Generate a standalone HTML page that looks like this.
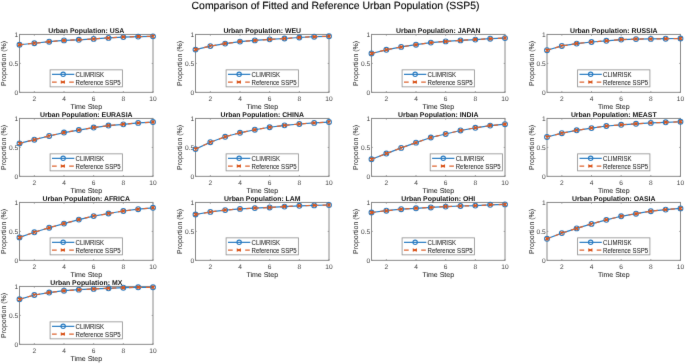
<!DOCTYPE html>
<html><head><meta charset="utf-8"><title>Comparison of Fitted and Reference Urban Population (SSP5)</title>
<style>
html,body{margin:0;padding:0;background:#fff;}
body{width:685px;height:364px;overflow:hidden;}
svg{display:block;will-change:transform;text-rendering:geometricPrecision;font-family:"Liberation Sans",sans-serif;}
text{fill:#262626;stroke:#262626;stroke-width:0.05px;}
.m{text-anchor:middle;} .e{text-anchor:end;}
.g{text-rendering:auto;}
.t{font-size:6.6px;fill:#404040;stroke:#404040;stroke-width:0px;} .l{font-size:7.0px;} .g{font-size:6.05px;}
.h{font-size:6.9px;font-weight:bold;fill:#111;stroke:none;}
.s{font-size:10.43px;text-anchor:middle;fill:#000;stroke:#000;stroke-width:0.12px;}
.ax{fill:none;stroke:#8a8a8a;stroke-width:1px;}
.tk{fill:none;stroke:#8a8a8a;stroke-width:0.8px;}
.lg{fill:#fff;stroke:#959595;stroke-width:0.85px;}
.bl{fill:none;stroke:#2a7cc2;stroke-width:1.2px;}
.mc{fill:none;stroke:#2a7cc2;stroke-width:1.1px;}
.or{fill:none;stroke:#dd6430;stroke-width:1.25px;stroke-dasharray:4.3 4.2;}
.ol{fill:none;stroke:#dd6430;stroke-width:1.25px;}
.mx{fill:none;stroke:#D95319;stroke-width:1.4px;}
.lx{stroke-width:1.5px;}
</style></head>
<body>
<svg width="685" height="364" viewBox="0 0 685 364">
<defs><filter id="bl" color-interpolation-filters="sRGB" x="0" y="0" width="685" height="364" filterUnits="userSpaceOnUse"><feConvolveMatrix order="3" kernelMatrix="0.0052 0.0619 0.0052 0.0619 0.7314 0.0619 0.0052 0.0619 0.0052" edgeMode="duplicate"/></filter></defs>
<rect width="685" height="364" fill="#fff"/>
<g filter="url(#bl)">
<text class="s" x="335.55" y="8.9">Comparison of Fitted and Reference Urban Population (SSP5)</text>
<g><rect class="ax" x="19.5" y="34.45" width="133.5" height="57.9"/><text class="t m" x="34.33" y="101.35">2</text><text class="t m" x="64" y="101.35">4</text><text class="t m" x="93.67" y="101.35">6</text><text class="t m" x="123.33" y="101.35">8</text><text class="t m" x="153" y="101.35">10</text><text class="t e" x="18.2" y="94.75">0</text><text class="t e" x="18.2" y="65.8">0.5</text><text class="t e" x="18.2" y="36.85">1</text><path class="tk" d="M34.33 92.35V91.05M34.33 34.45V35.75M64 92.35V91.05M64 34.45V35.75M93.67 92.35V91.05M93.67 34.45V35.75M123.33 92.35V91.05M123.33 34.45V35.75M153 92.35V91.05M153 34.45V35.75M19.5 92.35H20.8M153 92.35H151.7M19.5 63.4H20.8M153 63.4H151.7M19.5 34.45H20.8M153 34.45H151.7"/><text class="l m" x="86.25" y="108.85">Time Step</text><text class="l m" transform="translate(6.1,63.4) rotate(-90)">Proportion (%)</text><text class="h m" x="86.25" y="32.75">Urban Population: USA</text><polyline class="bl" points="19.5,44.77 34.33,43.26 49.17,41.69 64,40.42 78.83,39.78 93.67,38.91 108.5,37.92 123.33,37.11 138.17,36.59 153,36.36"/><circle class="mc" cx="19.5" cy="44.77" r="2.4"/><circle class="mc" cx="34.33" cy="43.26" r="2.4"/><circle class="mc" cx="49.17" cy="41.69" r="2.4"/><circle class="mc" cx="64" cy="40.42" r="2.4"/><circle class="mc" cx="78.83" cy="39.78" r="2.4"/><circle class="mc" cx="93.67" cy="38.91" r="2.4"/><circle class="mc" cx="108.5" cy="37.92" r="2.4"/><circle class="mc" cx="123.33" cy="37.11" r="2.4"/><circle class="mc" cx="138.17" cy="36.59" r="2.4"/><circle class="mc" cx="153" cy="36.36" r="2.4"/><polyline class="or" points="19.5,44.77 34.33,43.26 49.17,41.69 64,40.42 78.83,39.78 93.67,38.91 108.5,37.92 123.33,37.11 138.17,36.59 153,36.36"/><path class="mx" d="M18 43.27L21 46.27M18 46.27L21 43.27M32.83 41.76L35.83 44.76M32.83 44.76L35.83 41.76M47.67 40.19L50.67 43.19M47.67 43.19L50.67 40.19M62.5 38.92L65.5 41.92M62.5 41.92L65.5 38.92M77.33 38.28L80.33 41.28M77.33 41.28L80.33 38.28M92.17 37.41L95.17 40.41M92.17 40.41L95.17 37.41M107 36.42L110 39.42M107 39.42L110 36.42M121.83 35.61L124.83 38.61M121.83 38.61L124.83 35.61M136.67 35.09L139.67 38.09M136.67 38.09L139.67 35.09M151.5 34.86L154.5 37.86M151.5 37.86L154.5 34.86"/><rect class="lg" x="50.1" y="69.85" width="72.3" height="17"/><path class="bl" d="M52 74.35H74.3"/><circle class="mc" cx="63.15" cy="74.35" r="2.1999999999999997"/><path class="ol" d="M52 82.05H56.7M69.2 82.05H73.8"/><path fill="#D95319" d="M60.75 80.25L62.85 81.15L64.95 80.25V83.85L62.85 82.95L60.75 83.85Z"/><text class="g" transform="translate(75.6,76.75) scale(1,1.04)">CLIMRISK</text><text class="g" transform="translate(75.6,84.55) scale(1,1.04)">Reference SSP5</text></g>
<g><rect class="ax" x="195.5" y="34.45" width="133.5" height="57.9"/><text class="t m" x="210.33" y="101.35">2</text><text class="t m" x="240" y="101.35">4</text><text class="t m" x="269.67" y="101.35">6</text><text class="t m" x="299.33" y="101.35">8</text><text class="t m" x="329" y="101.35">10</text><text class="t e" x="194.2" y="94.75">0</text><text class="t e" x="194.2" y="65.8">0.5</text><text class="t e" x="194.2" y="36.85">1</text><path class="tk" d="M210.33 92.35V91.05M210.33 34.45V35.75M240 92.35V91.05M240 34.45V35.75M269.67 92.35V91.05M269.67 34.45V35.75M299.33 92.35V91.05M299.33 34.45V35.75M329 92.35V91.05M329 34.45V35.75M195.5 92.35H196.8M329 92.35H327.7M195.5 63.4H196.8M329 63.4H327.7M195.5 34.45H196.8M329 34.45H327.7"/><text class="l m" x="262.25" y="108.85">Time Step</text><text class="l m" transform="translate(182.1,63.4) rotate(-90)">Proportion (%)</text><text class="h m" x="262.25" y="32.75">Urban Population: WEU</text><polyline class="bl" points="195.5,49.58 210.33,46.1 225.17,43.61 240,41.58 254.83,40.42 269.67,39.37 284.5,38.5 299.33,37.52 314.17,36.7 329,36.3"/><circle class="mc" cx="195.5" cy="49.58" r="2.4"/><circle class="mc" cx="210.33" cy="46.1" r="2.4"/><circle class="mc" cx="225.17" cy="43.61" r="2.4"/><circle class="mc" cx="240" cy="41.58" r="2.4"/><circle class="mc" cx="254.83" cy="40.42" r="2.4"/><circle class="mc" cx="269.67" cy="39.37" r="2.4"/><circle class="mc" cx="284.5" cy="38.5" r="2.4"/><circle class="mc" cx="299.33" cy="37.52" r="2.4"/><circle class="mc" cx="314.17" cy="36.7" r="2.4"/><circle class="mc" cx="329" cy="36.3" r="2.4"/><polyline class="or" points="195.5,49.58 210.33,46.1 225.17,43.61 240,41.58 254.83,40.42 269.67,39.37 284.5,38.5 299.33,37.52 314.17,36.7 329,36.3"/><path class="mx" d="M194 48.08L197 51.08M194 51.08L197 48.08M208.83 44.6L211.83 47.6M208.83 47.6L211.83 44.6M223.67 42.11L226.67 45.11M223.67 45.11L226.67 42.11M238.5 40.08L241.5 43.08M238.5 43.08L241.5 40.08M253.33 38.92L256.33 41.92M253.33 41.92L256.33 38.92M268.17 37.87L271.17 40.87M268.17 40.87L271.17 37.87M283 37L286 40M283 40L286 37M297.83 36.02L300.83 39.02M297.83 39.02L300.83 36.02M312.67 35.2L315.67 38.2M312.67 38.2L315.67 35.2M327.5 34.8L330.5 37.8M327.5 37.8L330.5 34.8"/><rect class="lg" x="226.1" y="69.85" width="72.3" height="17"/><path class="bl" d="M228 74.35H250.3"/><circle class="mc" cx="239.15" cy="74.35" r="2.1999999999999997"/><path class="ol" d="M228 82.05H232.7M245.2 82.05H249.8"/><path fill="#D95319" d="M236.75 80.25L238.85 81.15L240.95 80.25V83.85L238.85 82.95L236.75 83.85Z"/><text class="g" transform="translate(251.6,76.75) scale(1,1.04)">CLIMRISK</text><text class="g" transform="translate(251.6,84.55) scale(1,1.04)">Reference SSP5</text></g>
<g><rect class="ax" x="371.5" y="34.45" width="133.5" height="57.9"/><text class="t m" x="386.33" y="101.35">2</text><text class="t m" x="416" y="101.35">4</text><text class="t m" x="445.67" y="101.35">6</text><text class="t m" x="475.33" y="101.35">8</text><text class="t m" x="505" y="101.35">10</text><text class="t e" x="370.2" y="94.75">0</text><text class="t e" x="370.2" y="65.8">0.5</text><text class="t e" x="370.2" y="36.85">1</text><path class="tk" d="M386.33 92.35V91.05M386.33 34.45V35.75M416 92.35V91.05M416 34.45V35.75M445.67 92.35V91.05M445.67 34.45V35.75M475.33 92.35V91.05M475.33 34.45V35.75M505 92.35V91.05M505 34.45V35.75M371.5 92.35H372.8M505 92.35H503.7M371.5 63.4H372.8M505 63.4H503.7M371.5 34.45H372.8M505 34.45H503.7"/><text class="l m" x="438.25" y="108.85">Time Step</text><text class="l m" transform="translate(358.1,63.4) rotate(-90)">Proportion (%)</text><text class="h m" x="438.25" y="32.75">Urban Population: JAPAN</text><polyline class="bl" points="371.5,53.47 386.33,49.81 401.17,46.91 416,44.71 430.83,42.62 445.67,41.4 460.5,40.42 475.33,39.6 490.17,38.68 505,38.1"/><circle class="mc" cx="371.5" cy="53.47" r="2.4"/><circle class="mc" cx="386.33" cy="49.81" r="2.4"/><circle class="mc" cx="401.17" cy="46.91" r="2.4"/><circle class="mc" cx="416" cy="44.71" r="2.4"/><circle class="mc" cx="430.83" cy="42.62" r="2.4"/><circle class="mc" cx="445.67" cy="41.4" r="2.4"/><circle class="mc" cx="460.5" cy="40.42" r="2.4"/><circle class="mc" cx="475.33" cy="39.6" r="2.4"/><circle class="mc" cx="490.17" cy="38.68" r="2.4"/><circle class="mc" cx="505" cy="38.1" r="2.4"/><polyline class="or" points="371.5,53.47 386.33,49.81 401.17,46.91 416,44.71 430.83,42.62 445.67,41.4 460.5,40.42 475.33,39.6 490.17,38.68 505,38.1"/><path class="mx" d="M370 51.97L373 54.97M370 54.97L373 51.97M384.83 48.31L387.83 51.31M384.83 51.31L387.83 48.31M399.67 45.41L402.67 48.41M399.67 48.41L402.67 45.41M414.5 43.21L417.5 46.21M414.5 46.21L417.5 43.21M429.33 41.12L432.33 44.12M429.33 44.12L432.33 41.12M444.17 39.9L447.17 42.9M444.17 42.9L447.17 39.9M459 38.92L462 41.92M459 41.92L462 38.92M473.83 38.1L476.83 41.1M473.83 41.1L476.83 38.1M488.67 37.18L491.67 40.18M488.67 40.18L491.67 37.18M503.5 36.6L506.5 39.6M503.5 39.6L506.5 36.6"/><rect class="lg" x="402.1" y="69.85" width="72.3" height="17"/><path class="bl" d="M404 74.35H426.3"/><circle class="mc" cx="415.15" cy="74.35" r="2.1999999999999997"/><path class="ol" d="M404 82.05H408.7M421.2 82.05H425.8"/><path fill="#D95319" d="M412.75 80.25L414.85 81.15L416.95 80.25V83.85L414.85 82.95L412.75 83.85Z"/><text class="g" transform="translate(427.6,76.75) scale(1,1.04)">CLIMRISK</text><text class="g" transform="translate(427.6,84.55) scale(1,1.04)">Reference SSP5</text></g>
<g><rect class="ax" x="547" y="34.45" width="133.5" height="57.9"/><text class="t m" x="561.83" y="101.35">2</text><text class="t m" x="591.5" y="101.35">4</text><text class="t m" x="621.17" y="101.35">6</text><text class="t m" x="650.83" y="101.35">8</text><text class="t m" x="680.5" y="101.35">10</text><text class="t e" x="545.7" y="94.75">0</text><text class="t e" x="545.7" y="65.8">0.5</text><text class="t e" x="545.7" y="36.85">1</text><path class="tk" d="M561.83 92.35V91.05M561.83 34.45V35.75M591.5 92.35V91.05M591.5 34.45V35.75M621.17 92.35V91.05M621.17 34.45V35.75M650.83 92.35V91.05M650.83 34.45V35.75M680.5 92.35V91.05M680.5 34.45V35.75M547 92.35H548.3M680.5 92.35H679.2M547 63.4H548.3M680.5 63.4H679.2M547 34.45H548.3M680.5 34.45H679.2"/><text class="l m" x="613.75" y="108.85">Time Step</text><text class="l m" transform="translate(533.6,63.4) rotate(-90)">Proportion (%)</text><text class="h m" x="613.75" y="32.75">Urban Population: RUSSIA</text><polyline class="bl" points="547,50.22 561.83,45.93 576.67,43.61 591.5,41.98 606.33,40.82 621.17,39.6 636,39.08 650.83,38.91 665.67,38.68 680.5,38.5"/><circle class="mc" cx="547" cy="50.22" r="2.4"/><circle class="mc" cx="561.83" cy="45.93" r="2.4"/><circle class="mc" cx="576.67" cy="43.61" r="2.4"/><circle class="mc" cx="591.5" cy="41.98" r="2.4"/><circle class="mc" cx="606.33" cy="40.82" r="2.4"/><circle class="mc" cx="621.17" cy="39.6" r="2.4"/><circle class="mc" cx="636" cy="39.08" r="2.4"/><circle class="mc" cx="650.83" cy="38.91" r="2.4"/><circle class="mc" cx="665.67" cy="38.68" r="2.4"/><circle class="mc" cx="680.5" cy="38.5" r="2.4"/><polyline class="or" points="547,50.22 561.83,45.93 576.67,43.61 591.5,41.98 606.33,40.82 621.17,39.6 636,39.08 650.83,38.91 665.67,38.68 680.5,38.5"/><path class="mx" d="M545.5 48.72L548.5 51.72M545.5 51.72L548.5 48.72M560.33 44.43L563.33 47.43M560.33 47.43L563.33 44.43M575.17 42.11L578.17 45.11M575.17 45.11L578.17 42.11M590 40.48L593 43.48M590 43.48L593 40.48M604.83 39.32L607.83 42.32M604.83 42.32L607.83 39.32M619.67 38.1L622.67 41.1M619.67 41.1L622.67 38.1M634.5 37.58L637.5 40.58M634.5 40.58L637.5 37.58M649.33 37.41L652.33 40.41M649.33 40.41L652.33 37.41M664.17 37.18L667.17 40.18M664.17 40.18L667.17 37.18M679 37L682 40M679 40L682 37"/><rect class="lg" x="577.6" y="69.85" width="72.3" height="17"/><path class="bl" d="M579.5 74.35H601.8"/><circle class="mc" cx="590.65" cy="74.35" r="2.1999999999999997"/><path class="ol" d="M579.5 82.05H584.2M596.7 82.05H601.3"/><path fill="#D95319" d="M588.25 80.25L590.35 81.15L592.45 80.25V83.85L590.35 82.95L588.25 83.85Z"/><text class="g" transform="translate(603.1,76.75) scale(1,1.04)">CLIMRISK</text><text class="g" transform="translate(603.1,84.55) scale(1,1.04)">Reference SSP5</text></g>
<g><rect class="ax" x="19.5" y="118.45" width="133.5" height="57.9"/><text class="t m" x="34.33" y="185.35">2</text><text class="t m" x="64" y="185.35">4</text><text class="t m" x="93.67" y="185.35">6</text><text class="t m" x="123.33" y="185.35">8</text><text class="t m" x="153" y="185.35">10</text><text class="t e" x="18.2" y="178.75">0</text><text class="t e" x="18.2" y="149.8">0.5</text><text class="t e" x="18.2" y="120.85">1</text><path class="tk" d="M34.33 176.35V175.05M34.33 118.45V119.75M64 176.35V175.05M64 118.45V119.75M93.67 176.35V175.05M93.67 118.45V119.75M123.33 176.35V175.05M123.33 118.45V119.75M153 176.35V175.05M153 118.45V119.75M19.5 176.35H20.8M153 176.35H151.7M19.5 147.4H20.8M153 147.4H151.7M19.5 118.45H20.8M153 118.45H151.7"/><text class="l m" x="86.25" y="192.85">Time Step</text><text class="l m" transform="translate(6.1,147.4) rotate(-90)">Proportion (%)</text><text class="h m" x="86.25" y="116.75">Urban Population: EURASIA</text><polyline class="bl" points="19.5,143.38 34.33,139.68 49.17,135.97 64,132.55 78.83,130.06 93.67,127.57 108.5,125.55 123.33,124.33 138.17,122.88 153,122.07"/><circle class="mc" cx="19.5" cy="143.38" r="2.4"/><circle class="mc" cx="34.33" cy="139.68" r="2.4"/><circle class="mc" cx="49.17" cy="135.97" r="2.4"/><circle class="mc" cx="64" cy="132.55" r="2.4"/><circle class="mc" cx="78.83" cy="130.06" r="2.4"/><circle class="mc" cx="93.67" cy="127.57" r="2.4"/><circle class="mc" cx="108.5" cy="125.55" r="2.4"/><circle class="mc" cx="123.33" cy="124.33" r="2.4"/><circle class="mc" cx="138.17" cy="122.88" r="2.4"/><circle class="mc" cx="153" cy="122.07" r="2.4"/><polyline class="or" points="19.5,143.38 34.33,139.68 49.17,135.97 64,132.55 78.83,130.06 93.67,127.57 108.5,125.55 123.33,124.33 138.17,122.88 153,122.07"/><path class="mx" d="M18 141.88L21 144.88M18 144.88L21 141.88M32.83 138.18L35.83 141.18M32.83 141.18L35.83 138.18M47.67 134.47L50.67 137.47M47.67 137.47L50.67 134.47M62.5 131.05L65.5 134.05M62.5 134.05L65.5 131.05M77.33 128.56L80.33 131.56M77.33 131.56L80.33 128.56M92.17 126.07L95.17 129.07M92.17 129.07L95.17 126.07M107 124.05L110 127.05M107 127.05L110 124.05M121.83 122.83L124.83 125.83M121.83 125.83L124.83 122.83M136.67 121.38L139.67 124.38M136.67 124.38L139.67 121.38M151.5 120.57L154.5 123.57M151.5 123.57L154.5 120.57"/><rect class="lg" x="50.1" y="153.85" width="72.3" height="17"/><path class="bl" d="M52 158.35H74.3"/><circle class="mc" cx="63.15" cy="158.35" r="2.1999999999999997"/><path class="ol" d="M52 166.05H56.7M69.2 166.05H73.8"/><path fill="#D95319" d="M60.75 164.25L62.85 165.15L64.95 164.25V167.85L62.85 166.95L60.75 167.85Z"/><text class="g" transform="translate(75.6,160.75) scale(1,1.04)">CLIMRISK</text><text class="g" transform="translate(75.6,168.55) scale(1,1.04)">Reference SSP5</text></g>
<g><rect class="ax" x="195.5" y="118.45" width="133.5" height="57.9"/><text class="t m" x="210.33" y="185.35">2</text><text class="t m" x="240" y="185.35">4</text><text class="t m" x="269.67" y="185.35">6</text><text class="t m" x="299.33" y="185.35">8</text><text class="t m" x="329" y="185.35">10</text><text class="t e" x="194.2" y="178.75">0</text><text class="t e" x="194.2" y="149.8">0.5</text><text class="t e" x="194.2" y="120.85">1</text><path class="tk" d="M210.33 176.35V175.05M210.33 118.45V119.75M240 176.35V175.05M240 118.45V119.75M269.67 176.35V175.05M269.67 118.45V119.75M299.33 176.35V175.05M299.33 118.45V119.75M329 176.35V175.05M329 118.45V119.75M195.5 176.35H196.8M329 176.35H327.7M195.5 147.4H196.8M329 147.4H327.7M195.5 118.45H196.8M329 118.45H327.7"/><text class="l m" x="262.25" y="192.85">Time Step</text><text class="l m" transform="translate(182.1,147.4) rotate(-90)">Proportion (%)</text><text class="h m" x="262.25" y="116.75">Urban Population: CHINA</text><polyline class="bl" points="195.5,149.11 210.33,142.22 225.17,136.78 240,132.79 254.83,129.72 269.67,127.23 284.5,125.37 299.33,123.98 314.17,122.88 329,122.07"/><circle class="mc" cx="195.5" cy="149.11" r="2.4"/><circle class="mc" cx="210.33" cy="142.22" r="2.4"/><circle class="mc" cx="225.17" cy="136.78" r="2.4"/><circle class="mc" cx="240" cy="132.79" r="2.4"/><circle class="mc" cx="254.83" cy="129.72" r="2.4"/><circle class="mc" cx="269.67" cy="127.23" r="2.4"/><circle class="mc" cx="284.5" cy="125.37" r="2.4"/><circle class="mc" cx="299.33" cy="123.98" r="2.4"/><circle class="mc" cx="314.17" cy="122.88" r="2.4"/><circle class="mc" cx="329" cy="122.07" r="2.4"/><polyline class="or" points="195.5,149.11 210.33,142.22 225.17,136.78 240,132.79 254.83,129.72 269.67,127.23 284.5,125.37 299.33,123.98 314.17,122.88 329,122.07"/><path class="mx" d="M194 147.61L197 150.61M194 150.61L197 147.61M208.83 140.72L211.83 143.72M208.83 143.72L211.83 140.72M223.67 135.28L226.67 138.28M223.67 138.28L226.67 135.28M238.5 131.29L241.5 134.29M238.5 134.29L241.5 131.29M253.33 128.22L256.33 131.22M253.33 131.22L256.33 128.22M268.17 125.73L271.17 128.73M268.17 128.73L271.17 125.73M283 123.87L286 126.87M283 126.87L286 123.87M297.83 122.48L300.83 125.48M297.83 125.48L300.83 122.48M312.67 121.38L315.67 124.38M312.67 124.38L315.67 121.38M327.5 120.57L330.5 123.57M327.5 123.57L330.5 120.57"/><rect class="lg" x="226.1" y="153.85" width="72.3" height="17"/><path class="bl" d="M228 158.35H250.3"/><circle class="mc" cx="239.15" cy="158.35" r="2.1999999999999997"/><path class="ol" d="M228 166.05H232.7M245.2 166.05H249.8"/><path fill="#D95319" d="M236.75 164.25L238.85 165.15L240.95 164.25V167.85L238.85 166.95L236.75 167.85Z"/><text class="g" transform="translate(251.6,160.75) scale(1,1.04)">CLIMRISK</text><text class="g" transform="translate(251.6,168.55) scale(1,1.04)">Reference SSP5</text></g>
<g><rect class="ax" x="371.5" y="118.45" width="133.5" height="57.9"/><text class="t m" x="386.33" y="185.35">2</text><text class="t m" x="416" y="185.35">4</text><text class="t m" x="445.67" y="185.35">6</text><text class="t m" x="475.33" y="185.35">8</text><text class="t m" x="505" y="185.35">10</text><text class="t e" x="370.2" y="178.75">0</text><text class="t e" x="370.2" y="149.8">0.5</text><text class="t e" x="370.2" y="120.85">1</text><path class="tk" d="M386.33 176.35V175.05M386.33 118.45V119.75M416 176.35V175.05M416 118.45V119.75M445.67 176.35V175.05M445.67 118.45V119.75M475.33 176.35V175.05M475.33 118.45V119.75M505 176.35V175.05M505 118.45V119.75M371.5 176.35H372.8M505 176.35H503.7M371.5 147.4H372.8M505 147.4H503.7M371.5 118.45H372.8M505 118.45H503.7"/><text class="l m" x="438.25" y="192.85">Time Step</text><text class="l m" transform="translate(358.1,147.4) rotate(-90)">Proportion (%)</text><text class="h m" x="438.25" y="116.75">Urban Population: INDIA</text><polyline class="bl" points="371.5,159.3 386.33,153.57 401.17,147.9 416,142.63 430.83,137.48 445.67,134 460.5,130.47 475.33,127.81 490.17,125.61 505,124.22"/><circle class="mc" cx="371.5" cy="159.3" r="2.4"/><circle class="mc" cx="386.33" cy="153.57" r="2.4"/><circle class="mc" cx="401.17" cy="147.9" r="2.4"/><circle class="mc" cx="416" cy="142.63" r="2.4"/><circle class="mc" cx="430.83" cy="137.48" r="2.4"/><circle class="mc" cx="445.67" cy="134" r="2.4"/><circle class="mc" cx="460.5" cy="130.47" r="2.4"/><circle class="mc" cx="475.33" cy="127.81" r="2.4"/><circle class="mc" cx="490.17" cy="125.61" r="2.4"/><circle class="mc" cx="505" cy="124.22" r="2.4"/><polyline class="or" points="371.5,159.3 386.33,153.57 401.17,147.9 416,142.63 430.83,137.48 445.67,134 460.5,130.47 475.33,127.81 490.17,125.61 505,124.22"/><path class="mx" d="M370 157.8L373 160.8M370 160.8L373 157.8M384.83 152.07L387.83 155.07M384.83 155.07L387.83 152.07M399.67 146.4L402.67 149.4M399.67 149.4L402.67 146.4M414.5 141.13L417.5 144.13M414.5 144.13L417.5 141.13M429.33 135.98L432.33 138.98M429.33 138.98L432.33 135.98M444.17 132.5L447.17 135.5M444.17 135.5L447.17 132.5M459 128.97L462 131.97M459 131.97L462 128.97M473.83 126.31L476.83 129.31M473.83 129.31L476.83 126.31M488.67 124.11L491.67 127.11M488.67 127.11L491.67 124.11M503.5 122.72L506.5 125.72M503.5 125.72L506.5 122.72"/><rect class="lg" x="430.2" y="153.85" width="72.3" height="17"/><path class="bl" d="M432.1 158.35H454.4"/><circle class="mc" cx="443.25" cy="158.35" r="2.1999999999999997"/><path class="ol" d="M432.1 166.05H436.8M449.3 166.05H453.9"/><path fill="#D95319" d="M440.85 164.25L442.95 165.15L445.05 164.25V167.85L442.95 166.95L440.85 167.85Z"/><text class="g" transform="translate(455.7,160.75) scale(1,1.04)">CLIMRISK</text><text class="g" transform="translate(455.7,168.55) scale(1,1.04)">Reference SSP5</text></g>
<g><rect class="ax" x="547" y="118.45" width="133.5" height="57.9"/><text class="t m" x="561.83" y="185.35">2</text><text class="t m" x="591.5" y="185.35">4</text><text class="t m" x="621.17" y="185.35">6</text><text class="t m" x="650.83" y="185.35">8</text><text class="t m" x="680.5" y="185.35">10</text><text class="t e" x="545.7" y="178.75">0</text><text class="t e" x="545.7" y="149.8">0.5</text><text class="t e" x="545.7" y="120.85">1</text><path class="tk" d="M561.83 176.35V175.05M561.83 118.45V119.75M591.5 176.35V175.05M591.5 118.45V119.75M621.17 176.35V175.05M621.17 118.45V119.75M650.83 176.35V175.05M650.83 118.45V119.75M680.5 176.35V175.05M680.5 118.45V119.75M547 176.35H548.3M680.5 176.35H679.2M547 147.4H548.3M680.5 147.4H679.2M547 118.45H548.3M680.5 118.45H679.2"/><text class="l m" x="613.75" y="192.85">Time Step</text><text class="l m" transform="translate(533.6,147.4) rotate(-90)">Proportion (%)</text><text class="h m" x="613.75" y="116.75">Urban Population: MEAST</text><polyline class="bl" points="547,137.01 561.83,133.19 576.67,130.3 591.5,128.1 606.33,126.01 621.17,124.8 636,123.81 650.83,122.88 665.67,122.31 680.5,121.73"/><circle class="mc" cx="547" cy="137.01" r="2.4"/><circle class="mc" cx="561.83" cy="133.19" r="2.4"/><circle class="mc" cx="576.67" cy="130.3" r="2.4"/><circle class="mc" cx="591.5" cy="128.1" r="2.4"/><circle class="mc" cx="606.33" cy="126.01" r="2.4"/><circle class="mc" cx="621.17" cy="124.8" r="2.4"/><circle class="mc" cx="636" cy="123.81" r="2.4"/><circle class="mc" cx="650.83" cy="122.88" r="2.4"/><circle class="mc" cx="665.67" cy="122.31" r="2.4"/><circle class="mc" cx="680.5" cy="121.73" r="2.4"/><polyline class="or" points="547,137.01 561.83,133.19 576.67,130.3 591.5,128.1 606.33,126.01 621.17,124.8 636,123.81 650.83,122.88 665.67,122.31 680.5,121.73"/><path class="mx" d="M545.5 135.51L548.5 138.51M545.5 138.51L548.5 135.51M560.33 131.69L563.33 134.69M560.33 134.69L563.33 131.69M575.17 128.8L578.17 131.8M575.17 131.8L578.17 128.8M590 126.6L593 129.6M590 129.6L593 126.6M604.83 124.51L607.83 127.51M604.83 127.51L607.83 124.51M619.67 123.3L622.67 126.3M619.67 126.3L622.67 123.3M634.5 122.31L637.5 125.31M634.5 125.31L637.5 122.31M649.33 121.38L652.33 124.38M649.33 124.38L652.33 121.38M664.17 120.81L667.17 123.81M664.17 123.81L667.17 120.81M679 120.23L682 123.23M679 123.23L682 120.23"/><rect class="lg" x="577.6" y="153.85" width="72.3" height="17"/><path class="bl" d="M579.5 158.35H601.8"/><circle class="mc" cx="590.65" cy="158.35" r="2.1999999999999997"/><path class="ol" d="M579.5 166.05H584.2M596.7 166.05H601.3"/><path fill="#D95319" d="M588.25 164.25L590.35 165.15L592.45 164.25V167.85L590.35 166.95L588.25 167.85Z"/><text class="g" transform="translate(603.1,160.75) scale(1,1.04)">CLIMRISK</text><text class="g" transform="translate(603.1,168.55) scale(1,1.04)">Reference SSP5</text></g>
<g><rect class="ax" x="19.5" y="202.45" width="133.5" height="57.9"/><text class="t m" x="34.33" y="269.35">2</text><text class="t m" x="64" y="269.35">4</text><text class="t m" x="93.67" y="269.35">6</text><text class="t m" x="123.33" y="269.35">8</text><text class="t m" x="153" y="269.35">10</text><text class="t e" x="18.2" y="262.75">0</text><text class="t e" x="18.2" y="233.8">0.5</text><text class="t e" x="18.2" y="204.85">1</text><path class="tk" d="M34.33 260.35V259.05M34.33 202.45V203.75M64 260.35V259.05M64 202.45V203.75M93.67 260.35V259.05M93.67 202.45V203.75M123.33 260.35V259.05M123.33 202.45V203.75M153 260.35V259.05M153 202.45V203.75M19.5 260.35H20.8M153 260.35H151.7M19.5 231.4H20.8M153 231.4H151.7M19.5 202.45H20.8M153 202.45H151.7"/><text class="l m" x="86.25" y="276.85">Time Step</text><text class="l m" transform="translate(6.1,231.4) rotate(-90)">Proportion (%)</text><text class="h m" x="86.25" y="200.75">Urban Population: AFRICA</text><polyline class="bl" points="19.5,237.4 34.33,232.3 49.17,227.71 64,223.6 78.83,219.59 93.67,216.11 108.5,213.5 123.33,211.01 138.17,209.21 153,207.82"/><circle class="mc" cx="19.5" cy="237.4" r="2.4"/><circle class="mc" cx="34.33" cy="232.3" r="2.4"/><circle class="mc" cx="49.17" cy="227.71" r="2.4"/><circle class="mc" cx="64" cy="223.6" r="2.4"/><circle class="mc" cx="78.83" cy="219.59" r="2.4"/><circle class="mc" cx="93.67" cy="216.11" r="2.4"/><circle class="mc" cx="108.5" cy="213.5" r="2.4"/><circle class="mc" cx="123.33" cy="211.01" r="2.4"/><circle class="mc" cx="138.17" cy="209.21" r="2.4"/><circle class="mc" cx="153" cy="207.82" r="2.4"/><polyline class="or" points="19.5,237.4 34.33,232.3 49.17,227.71 64,223.6 78.83,219.59 93.67,216.11 108.5,213.5 123.33,211.01 138.17,209.21 153,207.82"/><path class="mx" d="M18 235.9L21 238.9M18 238.9L21 235.9M32.83 230.8L35.83 233.8M32.83 233.8L35.83 230.8M47.67 226.21L50.67 229.21M47.67 229.21L50.67 226.21M62.5 222.1L65.5 225.1M62.5 225.1L65.5 222.1M77.33 218.09L80.33 221.09M77.33 221.09L80.33 218.09M92.17 214.61L95.17 217.61M92.17 217.61L95.17 214.61M107 212L110 215M107 215L110 212M121.83 209.51L124.83 212.51M121.83 212.51L124.83 209.51M136.67 207.71L139.67 210.71M136.67 210.71L139.67 207.71M151.5 206.32L154.5 209.32M151.5 209.32L154.5 206.32"/><rect class="lg" x="50.1" y="237.85" width="72.3" height="17"/><path class="bl" d="M52 242.35H74.3"/><circle class="mc" cx="63.15" cy="242.35" r="2.1999999999999997"/><path class="ol" d="M52 250.05H56.7M69.2 250.05H73.8"/><path fill="#D95319" d="M60.75 248.25L62.85 249.15L64.95 248.25V251.85L62.85 250.95L60.75 251.85Z"/><text class="g" transform="translate(75.6,244.75) scale(1,1.04)">CLIMRISK</text><text class="g" transform="translate(75.6,252.55) scale(1,1.04)">Reference SSP5</text></g>
<g><rect class="ax" x="195.5" y="202.45" width="133.5" height="57.9"/><text class="t m" x="210.33" y="269.35">2</text><text class="t m" x="240" y="269.35">4</text><text class="t m" x="269.67" y="269.35">6</text><text class="t m" x="299.33" y="269.35">8</text><text class="t m" x="329" y="269.35">10</text><text class="t e" x="194.2" y="262.75">0</text><text class="t e" x="194.2" y="233.8">0.5</text><text class="t e" x="194.2" y="204.85">1</text><path class="tk" d="M210.33 260.35V259.05M210.33 202.45V203.75M240 260.35V259.05M240 202.45V203.75M269.67 260.35V259.05M269.67 202.45V203.75M299.33 260.35V259.05M299.33 202.45V203.75M329 260.35V259.05M329 202.45V203.75M195.5 260.35H196.8M329 260.35H327.7M195.5 231.4H196.8M329 231.4H327.7M195.5 202.45H196.8M329 202.45H327.7"/><text class="l m" x="262.25" y="276.85">Time Step</text><text class="l m" transform="translate(182.1,231.4) rotate(-90)">Proportion (%)</text><text class="h m" x="262.25" y="200.75">Urban Population: LAM</text><polyline class="bl" points="195.5,214.49 210.33,211.88 225.17,210.08 240,208.92 254.83,208.11 269.67,207.47 284.5,206.6 299.33,205.79 314.17,205.38 329,204.98"/><circle class="mc" cx="195.5" cy="214.49" r="2.4"/><circle class="mc" cx="210.33" cy="211.88" r="2.4"/><circle class="mc" cx="225.17" cy="210.08" r="2.4"/><circle class="mc" cx="240" cy="208.92" r="2.4"/><circle class="mc" cx="254.83" cy="208.11" r="2.4"/><circle class="mc" cx="269.67" cy="207.47" r="2.4"/><circle class="mc" cx="284.5" cy="206.6" r="2.4"/><circle class="mc" cx="299.33" cy="205.79" r="2.4"/><circle class="mc" cx="314.17" cy="205.38" r="2.4"/><circle class="mc" cx="329" cy="204.98" r="2.4"/><polyline class="or" points="195.5,214.49 210.33,211.88 225.17,210.08 240,208.92 254.83,208.11 269.67,207.47 284.5,206.6 299.33,205.79 314.17,205.38 329,204.98"/><path class="mx" d="M194 212.99L197 215.99M194 215.99L197 212.99M208.83 210.38L211.83 213.38M208.83 213.38L211.83 210.38M223.67 208.58L226.67 211.58M223.67 211.58L226.67 208.58M238.5 207.42L241.5 210.42M238.5 210.42L241.5 207.42M253.33 206.61L256.33 209.61M253.33 209.61L256.33 206.61M268.17 205.97L271.17 208.97M268.17 208.97L271.17 205.97M283 205.1L286 208.1M283 208.1L286 205.1M297.83 204.29L300.83 207.29M297.83 207.29L300.83 204.29M312.67 203.88L315.67 206.88M312.67 206.88L315.67 203.88M327.5 203.48L330.5 206.48M327.5 206.48L330.5 203.48"/><rect class="lg" x="226.1" y="237.85" width="72.3" height="17"/><path class="bl" d="M228 242.35H250.3"/><circle class="mc" cx="239.15" cy="242.35" r="2.1999999999999997"/><path class="ol" d="M228 250.05H232.7M245.2 250.05H249.8"/><path fill="#D95319" d="M236.75 248.25L238.85 249.15L240.95 248.25V251.85L238.85 250.95L236.75 251.85Z"/><text class="g" transform="translate(251.6,244.75) scale(1,1.04)">CLIMRISK</text><text class="g" transform="translate(251.6,252.55) scale(1,1.04)">Reference SSP5</text></g>
<g><rect class="ax" x="371.5" y="202.45" width="133.5" height="57.9"/><text class="t m" x="386.33" y="269.35">2</text><text class="t m" x="416" y="269.35">4</text><text class="t m" x="445.67" y="269.35">6</text><text class="t m" x="475.33" y="269.35">8</text><text class="t m" x="505" y="269.35">10</text><text class="t e" x="370.2" y="262.75">0</text><text class="t e" x="370.2" y="233.8">0.5</text><text class="t e" x="370.2" y="204.85">1</text><path class="tk" d="M386.33 260.35V259.05M386.33 202.45V203.75M416 260.35V259.05M416 202.45V203.75M445.67 260.35V259.05M445.67 202.45V203.75M475.33 260.35V259.05M475.33 202.45V203.75M505 260.35V259.05M505 202.45V203.75M371.5 260.35H372.8M505 260.35H503.7M371.5 231.4H372.8M505 231.4H503.7M371.5 202.45H372.8M505 202.45H503.7"/><text class="l m" x="438.25" y="276.85">Time Step</text><text class="l m" transform="translate(358.1,231.4) rotate(-90)">Proportion (%)</text><text class="h m" x="438.25" y="200.75">Urban Population: OHI</text><polyline class="bl" points="371.5,212.52 386.33,210.72 401.17,209.21 416,208.28 430.83,207.47 445.67,206.6 460.5,206.02 475.33,205.62 490.17,204.8 505,204.4"/><circle class="mc" cx="371.5" cy="212.52" r="2.4"/><circle class="mc" cx="386.33" cy="210.72" r="2.4"/><circle class="mc" cx="401.17" cy="209.21" r="2.4"/><circle class="mc" cx="416" cy="208.28" r="2.4"/><circle class="mc" cx="430.83" cy="207.47" r="2.4"/><circle class="mc" cx="445.67" cy="206.6" r="2.4"/><circle class="mc" cx="460.5" cy="206.02" r="2.4"/><circle class="mc" cx="475.33" cy="205.62" r="2.4"/><circle class="mc" cx="490.17" cy="204.8" r="2.4"/><circle class="mc" cx="505" cy="204.4" r="2.4"/><polyline class="or" points="371.5,212.52 386.33,210.72 401.17,209.21 416,208.28 430.83,207.47 445.67,206.6 460.5,206.02 475.33,205.62 490.17,204.8 505,204.4"/><path class="mx" d="M370 211.02L373 214.02M370 214.02L373 211.02M384.83 209.22L387.83 212.22M384.83 212.22L387.83 209.22M399.67 207.71L402.67 210.71M399.67 210.71L402.67 207.71M414.5 206.78L417.5 209.78M414.5 209.78L417.5 206.78M429.33 205.97L432.33 208.97M429.33 208.97L432.33 205.97M444.17 205.1L447.17 208.1M444.17 208.1L447.17 205.1M459 204.52L462 207.52M459 207.52L462 204.52M473.83 204.12L476.83 207.12M473.83 207.12L476.83 204.12M488.67 203.3L491.67 206.3M488.67 206.3L491.67 203.3M503.5 202.9L506.5 205.9M503.5 205.9L506.5 202.9"/><rect class="lg" x="402.1" y="237.85" width="72.3" height="17"/><path class="bl" d="M404 242.35H426.3"/><circle class="mc" cx="415.15" cy="242.35" r="2.1999999999999997"/><path class="ol" d="M404 250.05H408.7M421.2 250.05H425.8"/><path fill="#D95319" d="M412.75 248.25L414.85 249.15L416.95 248.25V251.85L414.85 250.95L412.75 251.85Z"/><text class="g" transform="translate(427.6,244.75) scale(1,1.04)">CLIMRISK</text><text class="g" transform="translate(427.6,252.55) scale(1,1.04)">Reference SSP5</text></g>
<g><rect class="ax" x="547" y="202.45" width="133.5" height="57.9"/><text class="t m" x="561.83" y="269.35">2</text><text class="t m" x="591.5" y="269.35">4</text><text class="t m" x="621.17" y="269.35">6</text><text class="t m" x="650.83" y="269.35">8</text><text class="t m" x="680.5" y="269.35">10</text><text class="t e" x="545.7" y="262.75">0</text><text class="t e" x="545.7" y="233.8">0.5</text><text class="t e" x="545.7" y="204.85">1</text><path class="tk" d="M561.83 260.35V259.05M561.83 202.45V203.75M591.5 260.35V259.05M591.5 202.45V203.75M621.17 260.35V259.05M621.17 202.45V203.75M650.83 260.35V259.05M650.83 202.45V203.75M680.5 260.35V259.05M680.5 202.45V203.75M547 260.35H548.3M680.5 260.35H679.2M547 231.4H548.3M680.5 231.4H679.2M547 202.45H548.3M680.5 202.45H679.2"/><text class="l m" x="613.75" y="276.85">Time Step</text><text class="l m" transform="translate(533.6,231.4) rotate(-90)">Proportion (%)</text><text class="h m" x="613.75" y="200.75">Urban Population: OASIA</text><polyline class="bl" points="547,238.79 561.83,233.11 576.67,228.41 591.5,223.89 606.33,219.83 621.17,216.29 636,213.68 650.83,211.18 665.67,209.62 680.5,208.4"/><circle class="mc" cx="547" cy="238.79" r="2.4"/><circle class="mc" cx="561.83" cy="233.11" r="2.4"/><circle class="mc" cx="576.67" cy="228.41" r="2.4"/><circle class="mc" cx="591.5" cy="223.89" r="2.4"/><circle class="mc" cx="606.33" cy="219.83" r="2.4"/><circle class="mc" cx="621.17" cy="216.29" r="2.4"/><circle class="mc" cx="636" cy="213.68" r="2.4"/><circle class="mc" cx="650.83" cy="211.18" r="2.4"/><circle class="mc" cx="665.67" cy="209.62" r="2.4"/><circle class="mc" cx="680.5" cy="208.4" r="2.4"/><polyline class="or" points="547,238.79 561.83,233.11 576.67,228.41 591.5,223.89 606.33,219.83 621.17,216.29 636,213.68 650.83,211.18 665.67,209.62 680.5,208.4"/><path class="mx" d="M545.5 237.29L548.5 240.29M545.5 240.29L548.5 237.29M560.33 231.61L563.33 234.61M560.33 234.61L563.33 231.61M575.17 226.91L578.17 229.91M575.17 229.91L578.17 226.91M590 222.39L593 225.39M590 225.39L593 222.39M604.83 218.33L607.83 221.33M604.83 221.33L607.83 218.33M619.67 214.79L622.67 217.79M619.67 217.79L622.67 214.79M634.5 212.18L637.5 215.18M634.5 215.18L637.5 212.18M649.33 209.68L652.33 212.68M649.33 212.68L652.33 209.68M664.17 208.12L667.17 211.12M664.17 211.12L667.17 208.12M679 206.9L682 209.9M679 209.9L682 206.9"/><rect class="lg" x="577.6" y="237.85" width="72.3" height="17"/><path class="bl" d="M579.5 242.35H601.8"/><circle class="mc" cx="590.65" cy="242.35" r="2.1999999999999997"/><path class="ol" d="M579.5 250.05H584.2M596.7 250.05H601.3"/><path fill="#D95319" d="M588.25 248.25L590.35 249.15L592.45 248.25V251.85L590.35 250.95L588.25 251.85Z"/><text class="g" transform="translate(603.1,244.75) scale(1,1.04)">CLIMRISK</text><text class="g" transform="translate(603.1,252.55) scale(1,1.04)">Reference SSP5</text></g>
<g><rect class="ax" x="19.5" y="286.45" width="133.5" height="57.9"/><text class="t m" x="34.33" y="353.35">2</text><text class="t m" x="64" y="353.35">4</text><text class="t m" x="93.67" y="353.35">6</text><text class="t m" x="123.33" y="353.35">8</text><text class="t m" x="153" y="353.35">10</text><text class="t e" x="18.2" y="346.75">0</text><text class="t e" x="18.2" y="317.8">0.5</text><text class="t e" x="18.2" y="288.85">1</text><path class="tk" d="M34.33 344.35V343.05M34.33 286.45V287.75M64 344.35V343.05M64 286.45V287.75M93.67 344.35V343.05M93.67 286.45V287.75M123.33 344.35V343.05M123.33 286.45V287.75M153 344.35V343.05M153 286.45V287.75M19.5 344.35H20.8M153 344.35H151.7M19.5 315.4H20.8M153 315.4H151.7M19.5 286.45H20.8M153 286.45H151.7"/><text class="l m" x="86.25" y="360.85">Time Step</text><text class="l m" transform="translate(6.1,315.4) rotate(-90)">Proportion (%)</text><text class="h m" x="86.25" y="284.75">Urban Population: MX</text><polyline class="bl" points="19.5,299.3 34.33,295.01 49.17,292.57 64,290.72 78.83,289.67 93.67,288.92 108.5,288.28 123.33,287.7 138.17,287.3 153,287.3"/><circle class="mc" cx="19.5" cy="299.3" r="2.4"/><circle class="mc" cx="34.33" cy="295.01" r="2.4"/><circle class="mc" cx="49.17" cy="292.57" r="2.4"/><circle class="mc" cx="64" cy="290.72" r="2.4"/><circle class="mc" cx="78.83" cy="289.67" r="2.4"/><circle class="mc" cx="93.67" cy="288.92" r="2.4"/><circle class="mc" cx="108.5" cy="288.28" r="2.4"/><circle class="mc" cx="123.33" cy="287.7" r="2.4"/><circle class="mc" cx="138.17" cy="287.3" r="2.4"/><circle class="mc" cx="153" cy="287.3" r="2.4"/><polyline class="or" points="19.5,299.3 34.33,295.01 49.17,292.57 64,290.72 78.83,289.67 93.67,288.92 108.5,288.28 123.33,287.7 138.17,287.3 153,287.3"/><path class="mx" d="M18 297.8L21 300.8M18 300.8L21 297.8M32.83 293.51L35.83 296.51M32.83 296.51L35.83 293.51M47.67 291.07L50.67 294.07M47.67 294.07L50.67 291.07M62.5 289.22L65.5 292.22M62.5 292.22L65.5 289.22M77.33 288.17L80.33 291.17M77.33 291.17L80.33 288.17M92.17 287.42L95.17 290.42M92.17 290.42L95.17 287.42M107 286.78L110 289.78M107 289.78L110 286.78M121.83 286.2L124.83 289.2M121.83 289.2L124.83 286.2M136.67 285.8L139.67 288.8M136.67 288.8L139.67 285.8M151.5 285.8L154.5 288.8M151.5 288.8L154.5 285.8"/><rect class="lg" x="50.1" y="321.85" width="72.3" height="17"/><path class="bl" d="M52 326.35H74.3"/><circle class="mc" cx="63.15" cy="326.35" r="2.1999999999999997"/><path class="ol" d="M52 334.05H56.7M69.2 334.05H73.8"/><path fill="#D95319" d="M60.75 332.25L62.85 333.15L64.95 332.25V335.85L62.85 334.95L60.75 335.85Z"/><text class="g" transform="translate(75.6,328.75) scale(1,1.04)">CLIMRISK</text><text class="g" transform="translate(75.6,336.55) scale(1,1.04)">Reference SSP5</text></g>
</g>
</svg>
</body></html>
